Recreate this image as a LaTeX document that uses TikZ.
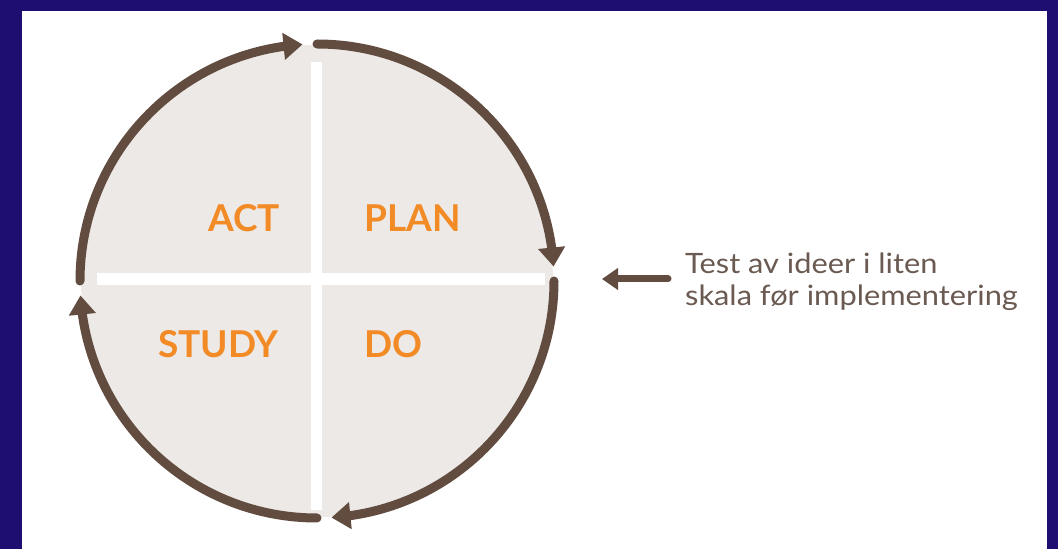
\documentclass[tikz,border=0pt]{standalone}
\usepackage{fontspec}
\setmainfont{Lato}
\newfontfamily\notefont[FakeStretch=1.1]{Lato}
\usetikzlibrary{arrows.meta,bending}
\definecolor{navy}{HTML}{1E0E72}
\definecolor{cyclebrown}{HTML}{624C40}
\definecolor{quadgray}{HTML}{ECE9E6}
\definecolor{pdsaorange}{HTML}{F28A26}
\definecolor{notebrown}{HTML}{6A5A52}
\tikzset{
  cyclearc/.style={draw=cyclebrown, line width=9pt, line cap=round,
    -{Triangle[width=26pt,length=19pt,flex]}},
  phase/.style={font=\fontsize{37}{40}\selectfont\bfseries, text=pdsaorange, inner sep=0pt},
  note/.style={font=\notefont\fontsize{28}{32}\selectfont, text=notebrown, align=left, inner sep=0pt},
  crossbar/.style={fill=white, draw=none}
}
\begin{document}
\begin{tikzpicture}[x=1pt,y=1pt]
\useasboundingbox (0,0) rectangle (1058,549);
\fill[navy] (0,0) rectangle (1058,549);
\fill[white] (22,0) rectangle (1047,538);
% circle
\coordinate (c) at (317,268);
\fill[quadgray] (c) circle[radius=236];
\fill[crossbar] (311,39) rectangle (322,487);
\fill[crossbar] (97,264) rectangle (545,276);
% arcs
\draw[cyclearc] (c) ++(90:237) arc[start angle=90, end angle=3.5, radius=237];
\draw[cyclearc] (c) ++(0:237) arc[start angle=0, end angle=-86.5, radius=237];
\draw[cyclearc] (c) ++(-90:237) arc[start angle=-90, end angle=-176.5, radius=237];
\draw[cyclearc] (c) ++(180:237) arc[start angle=180, end angle=93.5, radius=237];
% labels
\node[phase, anchor=base east] (act) at (280,317) {ACT};
\node[phase, anchor=base west] (plan) at (364,317) {PLAN};
\node[phase, anchor=base east] (study) at (279,191) {STUDY};
\node[phase, anchor=base west] (do) at (364,191) {DO};
% note
\node[note, anchor=north west] (txt) at (685,296) {Test av ideer i liten\\skala før implementering};
\coordinate (tail) at (668,270);
\draw[draw=cyclebrown, line width=7pt, line cap=round, -{Triangle[width=21pt,length=16pt]}] (tail) -- (602,270);
\end{tikzpicture}
\end{document}
